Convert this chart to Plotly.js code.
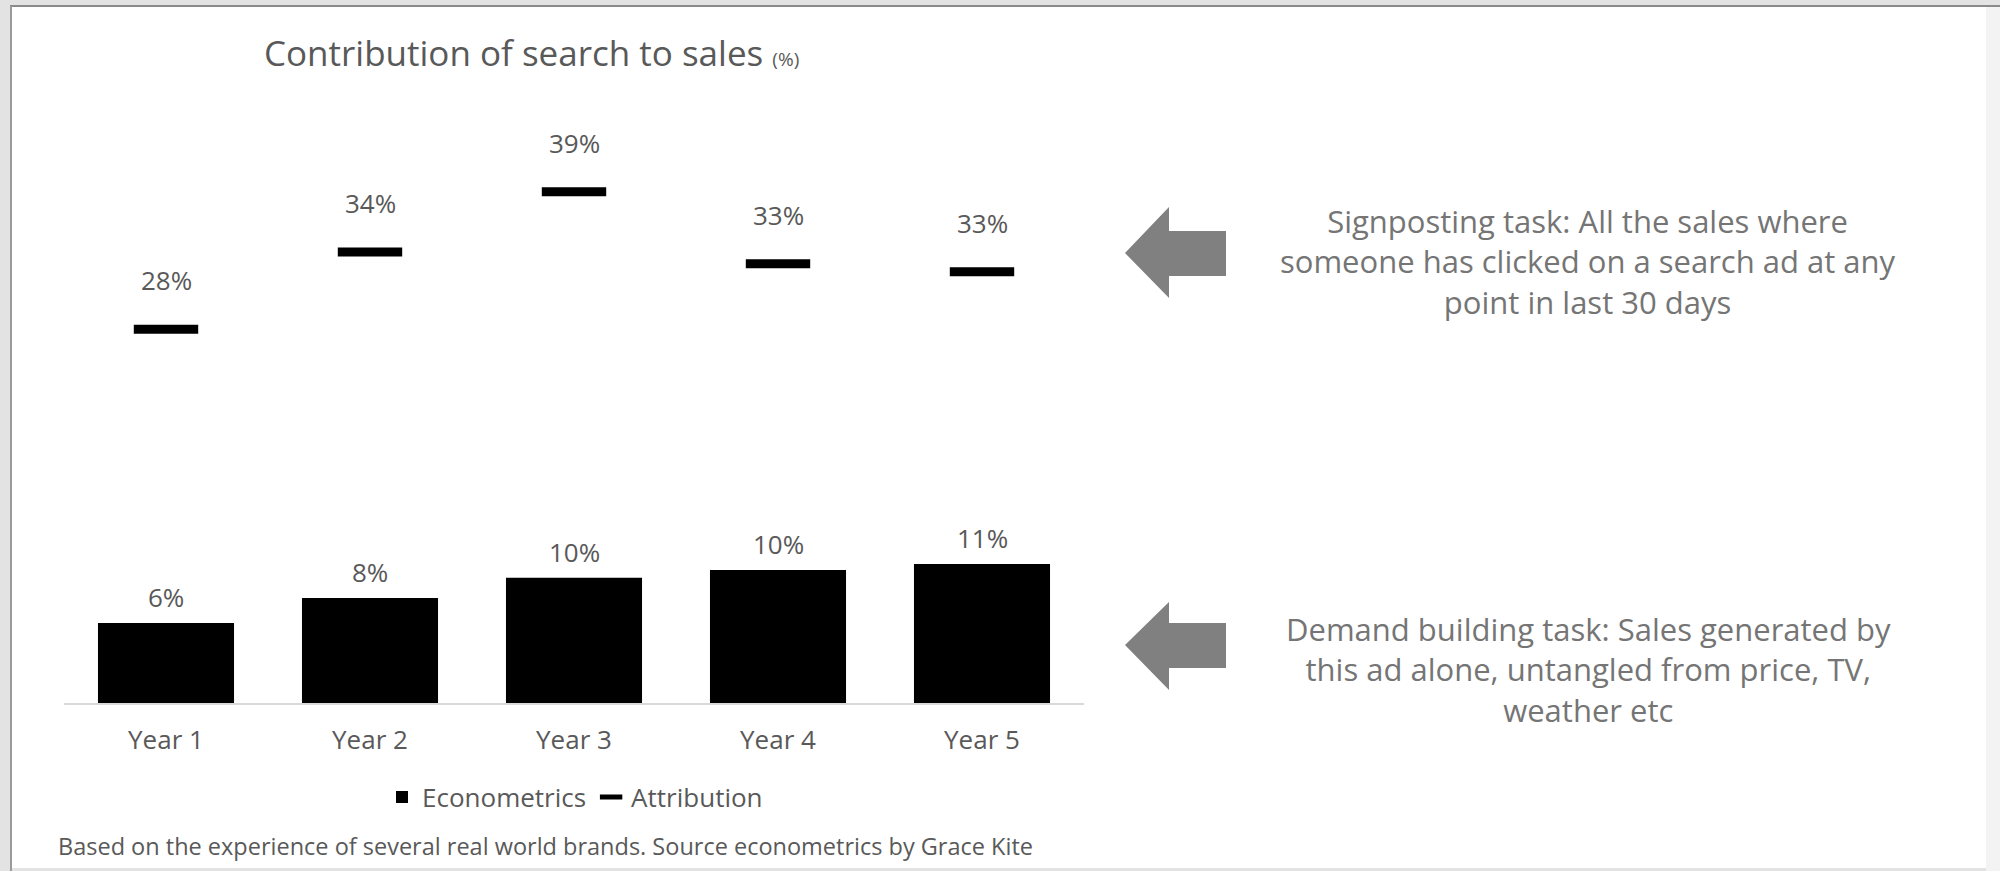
<!DOCTYPE html>
<html>
<head>
<meta charset="utf-8">
<script src="https://cdn.plot.ly/plotly-3.0.1.min.js"></script>
<style>html,body{margin:0;padding:0;background:#fff;}#chart{width:2000px;height:871px;}</style>
</head>
<body>
<div id="chart"></div>
<script>
// ---- data ----
const categories = ['Year 1', 'Year 2', 'Year 3', 'Year 4', 'Year 5'];
const econometrics = [6.1, 8.0, 9.55, 10.15, 10.6];
const attribution = [28.5, 34.4, 39.0, 33.5, 32.9];
const econLabels = ['6%', '8%', '10%', '10%', '11%'];
const attrLabels = ['28%', '34%', '39%', '33%', '33%'];
const seriesNames = ['Econometrics', 'Attribution'];
const titleText = 'Contribution of search to sales';
const signpostText = 'Signposting task: All the sales where<br>someone has clicked on a search ad at any<br>point in last 30 days';
const demandText = 'Demand building task: Sales generated by<br>this ad alone, untangled from price, TV,<br>weather etc';
const footerText = 'Based on the experience of several real world brands. Source econometrics by Grace Kite';

// ---- layout helpers (pixel -> paper) ----
const W = 2000, H = 871;
const L = 64, R = 1084, T = 113, B = 703;
const px = x => (x - L) / (R - L);
const py = y => (B - y) / (B - T);
const FONT = '"Open Sans", "DejaVu Sans", sans-serif';
const GREY = '#595959';

function arrowPath(tipX, tipY, headX, headTop, headBot, shaftTop, shaftBot, endX) {
  const pts = [[tipX, tipY], [headX, headTop], [headX, shaftTop], [endX, shaftTop],
               [endX, shaftBot], [headX, shaftBot], [headX, headBot]];
  return 'M' + pts.map(p => px(p[0]).toFixed(5) + ',' + py(p[1]).toFixed(5)).join(' L') + ' Z';
}

const traces = [
  {
    type: 'bar', name: seriesNames[0], x: categories, y: econometrics,
    marker: {color: '#000000'}, hoverinfo: 'skip'
  },
  {
    type: 'scatter', mode: 'markers', name: seriesNames[1], x: categories, y: attribution,
    marker: {symbol: 'line-ew', size: 46, color: '#000000', line: {color: '#000000', width: 9}},
    cliponaxis: false, hoverinfo: 'skip'
  }
];

const annotations = [];
categories.forEach((c, i) => {
  annotations.push({x: c, y: econometrics[i], xref: 'x', yref: 'y', text: econLabels[i],
    showarrow: false, yanchor: 'middle', yshift: 26, font: {family: FONT, size: 26, color: GREY}});
  annotations.push({x: c, y: attribution[i], xref: 'x', yref: 'y', text: attrLabels[i],
    showarrow: false, yanchor: 'middle', yshift: 49, font: {family: FONT, size: 26, color: GREY}});
});
annotations.push({xref: 'paper', yref: 'paper', x: px(1588), y: py(261), text: signpostText,
  showarrow: false, align: 'center', xanchor: 'center', yanchor: 'middle',
  font: {family: FONT, size: 31, color: '#757575'}});
annotations.push({xref: 'paper', yref: 'paper', x: px(1588), y: py(669), text: demandText,
  showarrow: false, align: 'center', xanchor: 'center', yanchor: 'middle',
  font: {family: FONT, size: 31, color: '#757575'}});
annotations.push({xref: 'paper', yref: 'paper', x: px(56), y: py(846), text: footerText,
  showarrow: false, align: 'left', xanchor: 'left', yanchor: 'middle',
  font: {family: FONT, size: 23.5, color: GREY}});

const shapes = [
  {type: 'rect', xref: 'paper', yref: 'paper', x0: px(12), x1: px(1986), y0: py(7), y1: py(868),
   fillcolor: '#ffffff', line: {width: 0}, layer: 'below'},
  {type: 'rect', xref: 'paper', yref: 'paper', x0: px(1986), x1: px(2000), y0: py(7), y1: py(871),
   fillcolor: '#f3f3f3', line: {width: 0}, layer: 'below'},
  {type: 'line', xref: 'paper', yref: 'paper', x0: px(10), x1: px(2000), y0: py(6), y1: py(6),
   line: {color: '#8a8a8a', width: 2}, layer: 'below'},
  {type: 'line', xref: 'paper', yref: 'paper', x0: px(11), x1: px(11), y0: py(6), y1: py(871),
   line: {color: '#9a9a9a', width: 2}, layer: 'below'},
  {type: 'path', xref: 'paper', yref: 'paper',
   path: arrowPath(1125, 253, 1169, 207, 298, 231, 276, 1226),
   fillcolor: '#808080', line: {width: 0}},
  {type: 'path', xref: 'paper', yref: 'paper',
   path: arrowPath(1125, 645, 1169, 602, 690, 623, 668, 1226),
   fillcolor: '#808080', line: {width: 0}}
];

const layout = {
  width: W, height: H,
  margin: {l: L, r: W - R, t: T, b: H - B, pad: 0},
  paper_bgcolor: '#e3e3e3',
  plot_bgcolor: 'rgba(0,0,0,0)',
  font: {family: FONT, color: GREY},
  title: {
    text: titleText + ' <span style="font-size:19px">(%)</span>',
    xref: 'container', yref: 'container', x: 264 / W, y: 1 - 54 / H,
    xanchor: 'left', yanchor: 'middle',
    font: {family: FONT, size: 35, color: GREY}
  },
  bargap: 0.333,
  xaxis: {
    type: 'category', range: [-0.5, 4.5], fixedrange: true,
    showline: true, linecolor: '#d9d9d9', linewidth: 2,
    showgrid: false, zeroline: false, ticks: '',
    ticklabelstandoff: 13,
    tickfont: {family: FONT, size: 26, color: GREY}
  },
  yaxis: {
    range: [0, 45], visible: false, fixedrange: true, showgrid: false, zeroline: false
  },
  showlegend: true,
  legend: {
    orientation: 'h', x: px(575), xanchor: 'center', y: py(797), yanchor: 'middle',
    font: {family: FONT, size: 26, color: GREY}, bgcolor: 'rgba(0,0,0,0)',
    traceorder: 'normal'
  },
  annotations: annotations,
  shapes: shapes
};

Plotly.newPlot('chart', traces, layout, {displayModeBar: false, staticPlot: true});
</script>
</body>
</html>
